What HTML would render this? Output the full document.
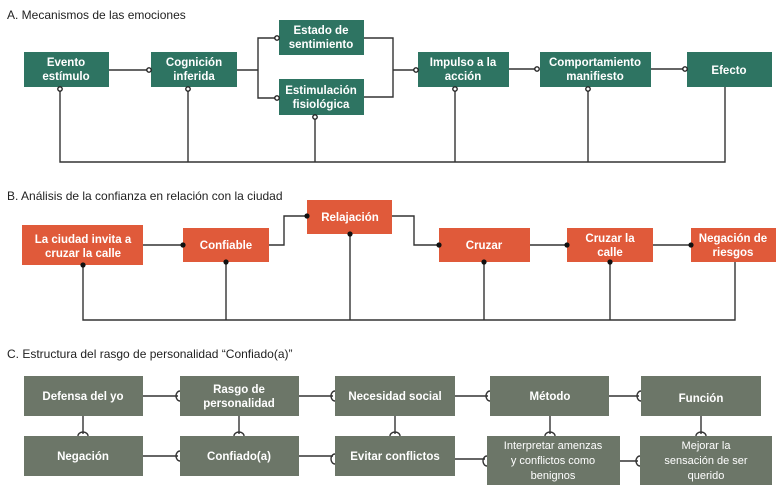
<!DOCTYPE html>
<html><head><meta charset="utf-8"><style>
body{margin:0;background:#fff;width:780px;height:494px;overflow:hidden;font-family:"Liberation Sans",sans-serif}
svg text{font-family:"Liberation Sans",sans-serif}
.t{font-size:12px;fill:#222}
.g{fill:#2e7462}.o{fill:#e05a3a}.s{fill:#6c7668}
.w{fill:#fff;font-size:11.5px;font-weight:bold;text-anchor:middle}
.ws{fill:#fff;font-size:11px;text-anchor:middle}
.l{stroke:#333;stroke-width:1.4;fill:none}
.oc{fill:#fff;stroke:#222;stroke-width:1.4}
</style></head><body>
<svg width="780" height="494" viewBox="0 0 780 494">
<!-- A -->
<text class="t" x="7" y="19">A. Mecanismos de las emociones</text>
<g class="l">
<path d="M109 70H149"/><path d="M237 70H258M277 38H258V98H277"/><path d="M364 38H393V97H364M393 70H416"/>
<path d="M509 69H537"/><path d="M651 69H685"/>
<path d="M60 88V162H725V87M188 88V162M315 116V162M455 88V162M588 88V162"/>
</g>
<rect class="g" x="24" y="52" width="85" height="35"/><rect class="g" x="151" y="52" width="86" height="35"/>
<rect class="g" x="279" y="20" width="85" height="35"/><rect class="g" x="279" y="79" width="85" height="36"/>
<rect class="g" x="418" y="52" width="91" height="35"/><rect class="g" x="540" y="52" width="111" height="35"/>
<rect class="g" x="687" y="52" width="85" height="35"/>
<g class="oc"><circle cx="149" cy="70" r="2.2"/><circle cx="277" cy="38" r="2.2"/><circle cx="277" cy="98" r="2.2"/><circle cx="416" cy="70" r="2.2"/><circle cx="537" cy="69" r="2.2"/><circle cx="685" cy="69" r="2.2"/>
<circle cx="60" cy="89" r="2.2"/><circle cx="188" cy="89" r="2.2"/><circle cx="315" cy="117" r="2.2"/><circle cx="455" cy="89" r="2.2"/><circle cx="588" cy="89" r="2.2"/></g>
<text class="w" x="66" y="66">Evento</text><text class="w" x="66" y="80">estímulo</text>
<text class="w" x="194" y="66">Cognición</text><text class="w" x="194" y="80">inferida</text>
<text class="w" x="321" y="34">Estado de</text><text class="w" x="321" y="48">sentimiento</text>
<text class="w" x="321" y="94">Estimulación</text><text class="w" x="321" y="108">fisiológica</text>
<text class="w" x="463" y="66">Impulso a la</text><text class="w" x="463" y="80">acción</text>
<text class="w" x="595" y="66">Comportamiento</text><text class="w" x="595" y="80">manifiesto</text>
<text class="w" x="729" y="74">Efecto</text>
<!-- B -->
<text class="t" x="7" y="200">B. Análisis de la confianza en relación con la ciudad</text>
<g class="l">
<path d="M143 245H183"/><path d="M269 245H284V216H307"/><path d="M392 216H414V245H439"/><path d="M530 245H567"/><path d="M653 245H691"/>
<path d="M83 264V320H735V262M226 262V320M350 234V320M484 262V320M610 262V320"/>
</g>
<rect class="o" x="22" y="225" width="121" height="40"/><rect class="o" x="183" y="228" width="86" height="34"/>
<rect class="o" x="307" y="200" width="85" height="34"/><rect class="o" x="439" y="228" width="91" height="34"/>
<rect class="o" x="567" y="228" width="86" height="34"/><rect class="o" x="691" y="228" width="85" height="34"/>
<g fill="#111"><circle cx="183" cy="245" r="2.6"/><circle cx="307" cy="216" r="2.6"/><circle cx="439" cy="245" r="2.6"/><circle cx="567" cy="245" r="2.6"/><circle cx="691" cy="245" r="2.6"/>
<circle cx="83" cy="265" r="2.6"/><circle cx="226" cy="262" r="2.6"/><circle cx="350" cy="234" r="2.6"/><circle cx="484" cy="262" r="2.6"/><circle cx="610" cy="262" r="2.6"/></g>
<text class="w" x="83" y="243">La ciudad invita a</text><text class="w" x="83" y="257">cruzar la calle</text>
<text class="w" x="226" y="249">Confiable</text><text class="w" x="350" y="221">Relajación</text>
<text class="w" x="484" y="249">Cruzar</text>
<text class="w" x="610" y="242">Cruzar la</text><text class="w" x="610" y="256">calle</text>
<text class="w" x="733" y="242">Negación de</text><text class="w" x="733" y="256">riesgos</text>
<!-- C -->
<text class="t" x="7" y="358">C. Estructura del rasgo de personalidad “Confiado(a)”</text>
<g class="l">
<path d="M143 396H178M299 396H333M455 396H488M609 396H639"/>
<path d="M143 456H178M299 456H333M455 459H485M620 461H638"/>
<path d="M83 416V434M239 416V434M395 416V434M550 416V434M701 416V434"/>
<path d="M180 391A4 5 0 0 0 180 401M335 391A4 5 0 0 0 335 401M490 391A4 5 0 0 0 490 401M641 391A4 5 0 0 0 641 401"/>
<path d="M180 451A4 5 0 0 0 180 461M335 454A4 5 0 0 0 335 464M487 456A4 5 0 0 0 487 466M640 456A4 5 0 0 0 640 466"/>
<path d="M78 436A5 4 0 0 1 88 436M234 436A5 4 0 0 1 244 436M390 436A5 4 0 0 1 400 436M545 436A5 4 0 0 1 555 436M696 436A5 4 0 0 1 706 436"/>
</g>
<rect class="s" x="24" y="376" width="119" height="40"/><rect class="s" x="180" y="376" width="119" height="40"/>
<rect class="s" x="335" y="376" width="120" height="40"/><rect class="s" x="490" y="376" width="119" height="40"/>
<rect class="s" x="641" y="376" width="120" height="40"/>
<rect class="s" x="24" y="436" width="119" height="40"/><rect class="s" x="180" y="436" width="119" height="40"/>
<rect class="s" x="335" y="436" width="120" height="40"/><rect class="s" x="487" y="436" width="133" height="49"/>
<rect class="s" x="640" y="436" width="132" height="49"/>
<text class="w" x="83" y="400">Defensa del yo</text>
<text class="w" x="239" y="393">Rasgo de</text><text class="w" x="239" y="407">personalidad</text>
<text class="w" x="395" y="400">Necesidad social</text>
<text class="w" x="550" y="400">Método</text><text class="w" x="701" y="402">Función</text>
<text class="w" x="83" y="460">Negación</text><text class="w" x="239" y="460">Confiado(a)</text>
<text class="w" x="395" y="460">Evitar conflictos</text>
<text class="ws" x="553" y="449">Interpretar amenzas</text><text class="ws" x="553" y="464">y conflictos como</text><text class="ws" x="553" y="479">benignos</text>
<text class="ws" x="706" y="449">Mejorar la</text><text class="ws" x="706" y="464">sensación de ser</text><text class="ws" x="706" y="479">querido</text>
</svg>
</body></html>
